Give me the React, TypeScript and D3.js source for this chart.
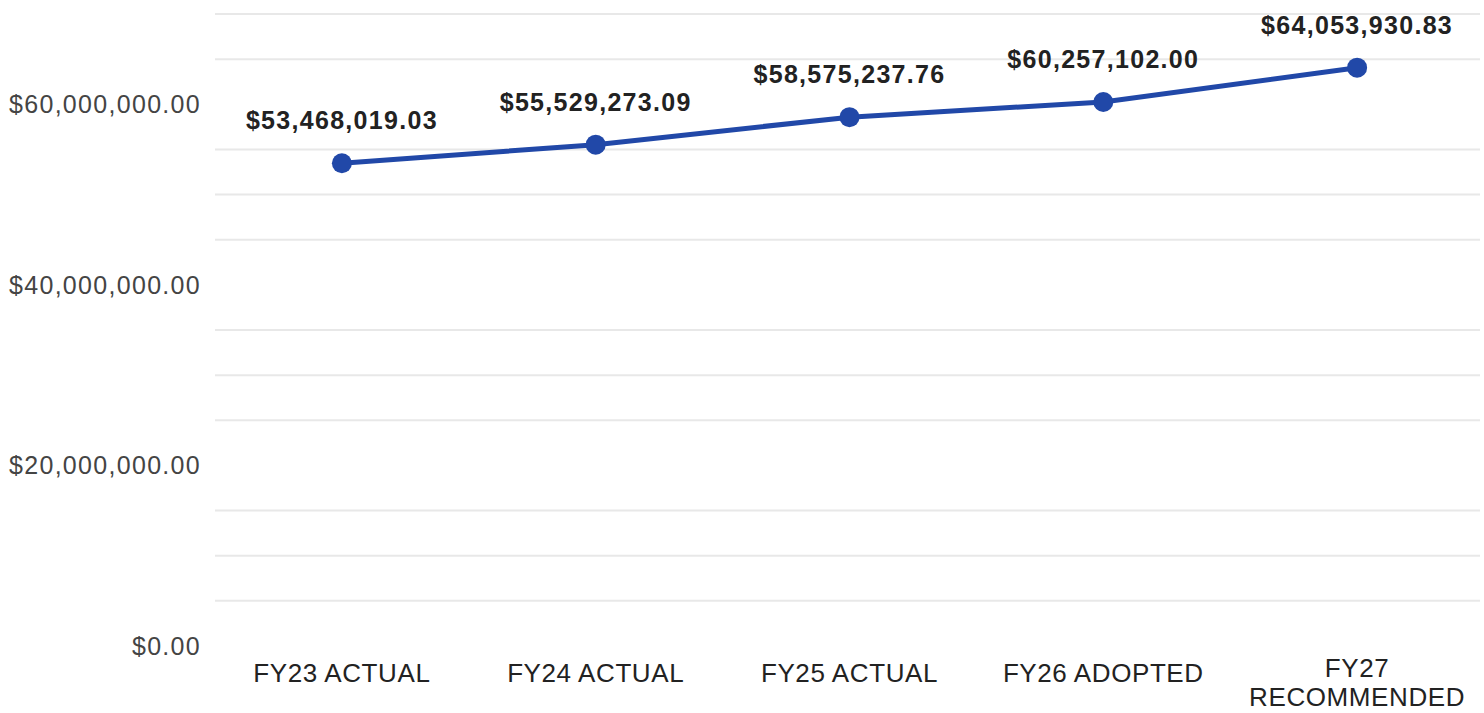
import { useRef, useEffect } from "react";
import * as d3 from "d3";

const categories = ["FY23 ACTUAL", "FY24 ACTUAL", "FY25 ACTUAL", "FY26 ADOPTED", "FY27 RECOMMENDED"];
const amounts = [53468019.03, 55529273.09, 58575237.76, 60257102.0, 64053930.83];
const yTicks = [0, 20000000, 40000000, 60000000];
const gridSteps = [5e6, 10e6, 15e6, 25e6, 30e6, 35e6, 45e6, 50e6, 55e6, 65e6, 70e6];

const W = 1484;
const H = 713;
const FONT = "'Liberation Sans', Arial, sans-serif";

const fmt = (v: number) => "$" + d3.format(",.2f")(v);

const App = () => {
  const ref = useRef<SVGSVGElement>(null);

  useEffect(() => {
    if (!ref.current) return;
    const svg = d3.select(ref.current);
    svg.selectAll("*").remove();

    const x = d3.scaleBand().domain(categories).range([215, 1484]);
    const y = d3.scaleLinear().domain([0, 70000000]).range([646, 14]);
    const cx = (c: string) => x(c)! + x.bandwidth() / 2;

    // faint gridlines
    svg
      .append("g")
      .selectAll("line")
      .data(gridSteps)
      .enter()
      .append("line")
      .attr("x1", 215)
      .attr("x2", 1480)
      .attr("y1", (d) => y(d))
      .attr("y2", (d) => y(d))
      .attr("stroke", "#e8e8e8")
      .attr("stroke-width", 2);

    // y axis labels
    svg
      .append("g")
      .selectAll("text")
      .data(yTicks)
      .enter()
      .append("text")
      .attr("x", 201)
      .attr("y", (d) => y(d))
      .attr("dy", "0.35em")
      .attr("text-anchor", "end")
      .style("font-family", FONT)
      .style("font-size", "25px")
      .style("letter-spacing", "1.3px")
      .style("fill", "#444")
      .text((d) => fmt(d));

    // x axis labels, the long one goes on two lines
    svg
      .append("g")
      .selectAll("text")
      .data(categories)
      .enter()
      .append("text")
      .attr("text-anchor", "middle")
      .style("font-family", FONT)
      .style("font-size", "26px")
      .style("letter-spacing", "0.6px")
      .style("fill", "#222")
      .each(function (d) {
        const t = d3.select(this);
        if (d.length > 14) {
          const words = d.split(" ");
          t.attr("x", cx(d)).attr("y", 677).text(words[0]);
          d3.select(this.parentNode as SVGGElement)
            .append("text")
            .attr("x", cx(d))
            .attr("y", 706)
            .attr("text-anchor", "middle")
            .style("font-family", FONT)
            .style("font-size", "26px")
            .style("letter-spacing", "0.6px")
            .style("fill", "#222")
            .text(words[1]);
        } else {
          t.attr("x", cx(d)).attr("y", 682).text(d);
        }
      });

    const pts = categories.map((c, i) => ({ c, v: amounts[i] }));
    const line = d3
      .line<{ c: string; v: number }>()
      .x((d) => cx(d.c))
      .y((d) => y(d.v));

    svg
      .append("path")
      .datum(pts)
      .attr("d", line)
      .attr("fill", "none")
      .attr("stroke", "#2148a8")
      .attr("stroke-width", 5);

    svg
      .append("g")
      .selectAll("circle")
      .data(pts)
      .enter()
      .append("circle")
      .attr("cx", (d) => cx(d.c))
      .attr("cy", (d) => y(d.v))
      .attr("r", 10)
      .attr("fill", "#2148a8");

    // value labels
    svg
      .append("g")
      .selectAll("text")
      .data(pts)
      .enter()
      .append("text")
      .attr("x", (d) => cx(d.c))
      .attr("y", (d) => y(d.v) - 34)
      .attr("text-anchor", "middle")
      .style("font-family", FONT)
      .style("font-size", "25px")
      .style("font-weight", "bold")
      .style("letter-spacing", "1.3px")
      .style("fill", "#222")
      .text((d) => fmt(d.v));
  }, []);

  return (
    <svg
      ref={ref}
      width={W}
      height={H}
      style={{ position: "absolute", left: 0, top: 0, background: "#fff" }}
    />
  );
};

export default App;
